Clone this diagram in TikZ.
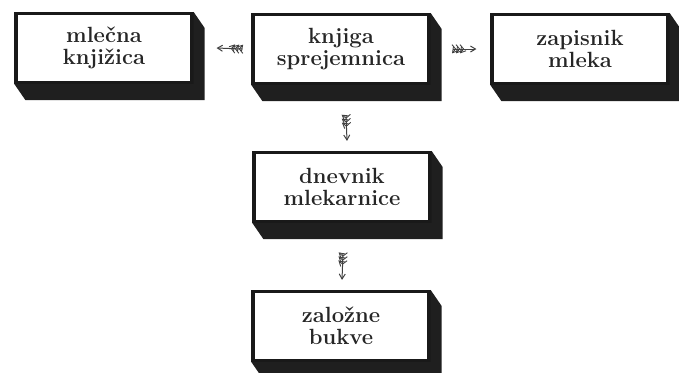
\documentclass[tikz,border=0pt]{standalone}
\usepackage{tikz}
\usetikzlibrary{arrows.meta,decorations.markings}
\def\blok#1{\fill[black!88] (#1.north east) -- ++(11,16) |- ([shift={(11,16)}]#1.south west) -- (#1.south west) -- (#1.south east) -- cycle;}
\def\pero{\draw[line width=0.45pt] (-1.8pt,2.2pt) -- (0pt,0pt) -- (-1.8pt,-2.2pt);}
\tikzset{
	kvader/.style={draw=black!90, line width=1.6pt, fill=white, minimum width=88pt, minimum height=34.5pt, inner sep=0pt, align=center, text=black!85, font=\bfseries\fontsize{11}{11}\selectfont},
	puscica/.style={black!75, line width=0.5pt, -{Straight Barb[length=2.5pt,width=3pt]},
		decoration={markings,
			mark=at position 1.5pt with {\pero},
			mark=at position 3.5pt with {\pero},
			mark=at position 5.5pt with {\pero}},
		postaction=decorate}
}
\begin{document}
\begin{tikzpicture}[x=0.5pt,y=-0.5pt]
			%%%%% START %%%%%
			\useasboundingbox (0,0) rectangle (679,372);
			
			\node[kvader] (mk) at (104, 48) {mlečna\\knjižica};
			\node[kvader] (ks) at (341, 49) {knjiga\\sprejemnica};
			\node[kvader] (zm) at (580, 49) {zapisnik\\mleka};
			\node[kvader] (dm) at (342, 187) {dnevnik\\mlekarnice};
			\node[kvader] (zb) at (341, 326) {založne\\bukve};
			
			\blok{mk}
			\blok{ks}
			\blok{zm}
			\blok{dm}
			\blok{zb}
			
			\draw[puscica] ([xshift=-4.5pt]ks.west) -- ([xshift=11.5pt]mk.east);
			\draw[puscica] ([xshift=11pt]ks.east) -- ([xshift=-7pt]zm.west);
			\draw[puscica] ([shift={(5,30)}]ks.south) -- ([shift={(5,-10)}]dm.north);
			\draw[puscica] ([shift={(1,30)}]dm.south) -- ([shift={(1,-10)}]zb.north);
			
			%%%%% END %%%%%
\end{tikzpicture}
\end{document}
